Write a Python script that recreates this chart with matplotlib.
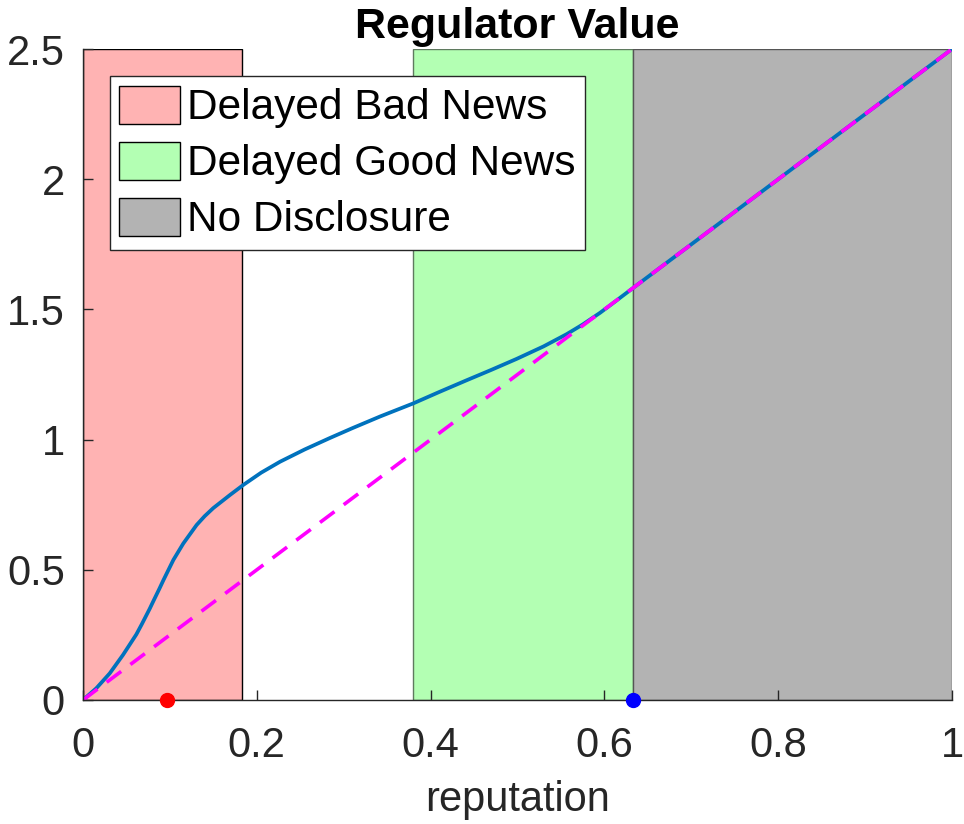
import matplotlib.pyplot as plt
from matplotlib.patches import Patch

plt.rcParams["font.family"] = ["Liberation Sans", "DejaVu Sans"]

# regulator value curve
reputation = [0.0, 0.0153, 0.0307, 0.046, 0.0614, 0.0675, 0.0767, 0.081,
              0.088, 0.0925, 0.104, 0.1154, 0.1307, 0.14, 0.1499, 0.169,
              0.1845, 0.205, 0.2267, 0.255, 0.284, 0.31, 0.342, 0.38, 0.41,
              0.4415, 0.47, 0.499, 0.53, 0.5566, 0.575, 0.595, 0.615, 0.633,
              1.0]
value = [0.0, 0.045, 0.102, 0.173, 0.252, 0.29, 0.35, 0.38,
         0.428, 0.46, 0.538, 0.601, 0.672, 0.706, 0.737, 0.787,
         0.826, 0.873, 0.915, 0.962, 1.006, 1.044, 1.089, 1.139, 1.183,
         1.228, 1.268, 1.31, 1.358, 1.405, 1.442, 1.487, 1.537, 1.5825,
         2.5]

# benchmark line
bench_x = [0.0, 1.0]
bench_y = [0.0, 2.5]

# regions
bad_news = (0.0, 0.183)
good_news = (0.380, 0.633)
no_disc = (0.633, 1.0)

red_dot = 0.0967
blue_dot = 0.633

xticks = [0, 0.2, 0.4, 0.6, 0.8, 1]
xtick_labels = ["0", "0.2", "0.4", "0.6", "0.8", "1"]
yticks = [0, 0.5, 1, 1.5, 2, 2.5]
ytick_labels = ["0", "0.5", "1", "1.5", "2", "2.5"]

fig = plt.figure(figsize=(9.64, 8.24), dpi=100)
ax = fig.add_axes([0.0861, 0.1505, 0.9015, 0.79])

ax.axvspan(*bad_news, facecolor="#ffb3b3", edgecolor="black", lw=1.0, zorder=0)
ax.axvspan(*good_news, facecolor="#b3ffb3", edgecolor="#5f7a5f", lw=1.0, zorder=0)
ax.axvspan(*no_disc, facecolor="#b3b3b3", edgecolor="#555555", lw=1.0, zorder=0)

ax.plot(reputation, value, color="#0072bd", lw=2.7, zorder=3,
        solid_joinstyle="round")
ax.plot(bench_x, bench_y, color="#ff00ff", lw=2.6, ls=(0, (5.0, 3.2)), zorder=4)

ax.plot([red_dot], [0], "o", color="red", ms=10, clip_on=False, zorder=6)
ax.plot([blue_dot], [0], "o", color="blue", ms=10, clip_on=False, zorder=6)

ax.set_xlim(0, 1)
ax.set_ylim(0, 2.5)
ax.set_xticks(xticks)
ax.set_xticklabels(xtick_labels)
ax.set_yticks(yticks)
ax.set_yticklabels(ytick_labels)
ax.tick_params(axis="both", direction="in", length=7, width=1.0,
               colors="#262626", labelsize=30)
ax.tick_params(axis="x", pad=19)
ax.tick_params(axis="y", pad=13)
for side in ["top", "right"]:
    ax.spines[side].set_visible(False)
for side in ["left", "bottom"]:
    ax.spines[side].set_color("#262626")
    ax.spines[side].set_linewidth(1.0)
    ax.spines[side].set_zorder(5)

ax.set_title("Regulator Value", fontsize=31, fontweight="bold", pad=8)
ax.set_xlabel("reputation", fontsize=30, color="#262626", labelpad=10)

handles = [
    Patch(facecolor="#ffb3b3", edgecolor="black", label="Delayed Bad News"),
    Patch(facecolor="#b3ffb3", edgecolor="black", label="Delayed Good News"),
    Patch(facecolor="#b3b3b3", edgecolor="black", label="No Disclosure"),
]
leg = ax.legend(handles=handles, loc="upper left", bbox_to_anchor=(0.031, 0.958),
                borderaxespad=0, fontsize=30.5, fancybox=False, framealpha=1,
                edgecolor="#262626", handlelength=1.43, handleheight=1.0,
                handletextpad=0.18, borderpad=0.22, labelspacing=0.32)
leg.get_frame().set_linewidth(1.0)
leg.set_zorder(10)

fig.savefig("out.png", dpi=100)
